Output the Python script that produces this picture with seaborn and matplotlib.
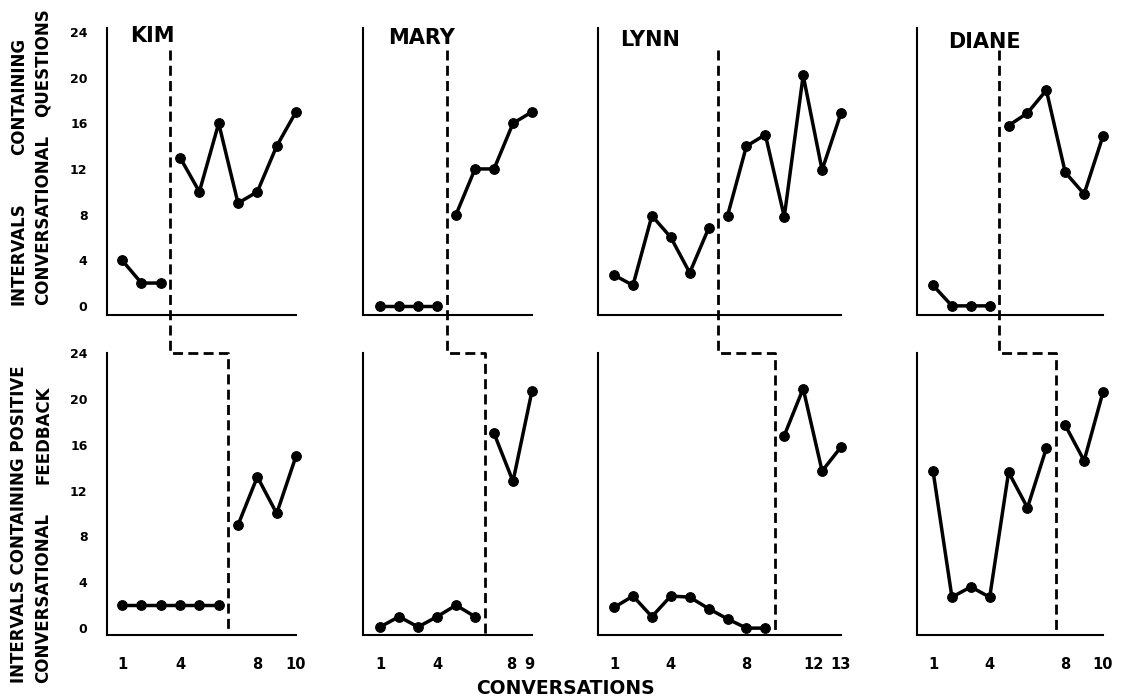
import numpy as np
import pandas as pd
import matplotlib
matplotlib.use("Agg")
import matplotlib.pyplot as plt
from matplotlib.lines import Line2D
from matplotlib.transforms import ScaledTranslation
import seaborn as sns

# ---------------- data ----------------
names = ["KIM", "MARY", "LYNN", "DIANE"]

kim_questions = [4, 2, 2, 13, 10, 16, 9, 10, 14, 17]
mary_questions = [0, 0, 0, 0, 8, 12, 12, 16, 17]
lynn_questions = [2.7, 1.8, 7.9, 6, 2.9, 6.8, 7.9, 14, 15, 7.8, 20.2, 11.9, 16.9]
diane_questions = [1.8, 0, 0, 0, 15.8, 16.9, 18.9, 11.7, 9.8, 14.9]

kim_feedback = [2, 2, 2, 2, 2, 2, 9, 13.2, 10, 15]
mary_feedback = [0.1, 1, 0.1, 1, 2, 1, 17, 12.8, 20.7]
lynn_feedback = [1.8, 2.8, 1, 2.8, 2.7, 1.7, 0.8, 0, 0, 16.8, 20.9, 13.7, 15.8]
diane_feedback = [13.7, 2.7, 3.6, 2.7, 13.6, 10.5, 15.7, 17.7, 14.6, 20.6]

question_phase_change = [3.5, 4.5, 6.5, 4.5]
feedback_phase_change = [6.5, 6.5, 9.5, 7.5]

xtick_labels = [[1, 4, 8, 10], [1, 4, 8, 9], [1, 4, 8, 12, 13], [1, 4, 8, 10]]
ytick_labels = [0, 4, 8, 12, 16, 20, 24]

questions = [kim_questions, mary_questions, lynn_questions, diane_questions]
feedback = [kim_feedback, mary_feedback, lynn_feedback, diane_feedback]

# ---------------- style / layout ----------------
sns.set_style("white")
plt.rcParams["font.family"] = ["DejaVu Sans"]
plt.rcParams["font.weight"] = "bold"
for k in ["text.color", "axes.labelcolor", "xtick.color", "ytick.color"]:
    plt.rcParams[k] = "black"

W, H = 1121, 698
fig = plt.figure(figsize=(W / 100, H / 100), dpi=100)

# (left px, right px, xlim left)
cols_px = [(107, 296, 0.22), (363, 532, 0.10), (598, 841, 0.15), (917, 1103, 0.15)]
# (top px, bottom px, ylim)
rows_px = [(28, 315, (-0.8, 24.35)), (353, 635, (-0.6, 24.0))]
name_offsets = [(23, -8), (25, -10), (22, -12), (31, -14)]
# horizontal nudges (px) of crowded x tick labels, per panel
xlabel_nudge = [{}, {8: -2, 9: -3}, {12: -9}, {}]


def rect(l, r, t, b):
    return [l / W, 1 - b / H, (r - l) / W, (b - t) / H]


def draw_panel(ax, values, change, xlim_left, ylim, show_x, xt, show_y, nudge):
    n = len(values)
    session = np.arange(1, n + 1)
    df = pd.DataFrame({
        "session": session,
        "value": values,
        "phase": (session > change).astype(int),
    })
    sns.lineplot(data=df, x="session", y="value", units="phase", estimator=None,
                 color="black", marker="o", markersize=7,
                 markeredgecolor="black", markerfacecolor="black",
                 linewidth=2.5, ax=ax, legend=False)
    for ln in ax.lines:
        ln.set_clip_on(False)
    ax.set_xlim(xlim_left, n)
    ax.set_ylim(*ylim)
    for s in ["top", "right"]:
        ax.spines[s].set_visible(False)
    for s in ["left", "bottom"]:
        ax.spines[s].set_color("black")
        ax.spines[s].set_linewidth(1.5)
    ax.set_xlabel("")
    ax.set_ylabel("")
    ax.tick_params(length=0)
    if show_x:
        ax.set_xticks(xt)
        ax.set_xticklabels([str(v) for v in xt], fontsize=10.5, fontweight="bold")
        ax.tick_params(axis="x", pad=16)
        for v, lab in zip(xt, ax.get_xticklabels()):
            if v in nudge:
                lab.set_transform(lab.get_transform() +
                                  ScaledTranslation(nudge[v] / 100, 0, fig.dpi_scale_trans))
    else:
        ax.set_xticks([])
    if show_y:
        ax.set_yticks(ytick_labels)
        ax.set_yticklabels([str(v) for v in ytick_labels], fontsize=9, fontweight="bold")
        ax.tick_params(axis="y", pad=14)
    else:
        ax.set_yticks([])
    ax.patch.set_alpha(0)


top_axes, bottom_axes = [], []
for i in range(4):
    l, r, x0 = cols_px[i]
    t, b, yl = rows_px[0]
    ax_t = fig.add_axes(rect(l, r, t, b))
    draw_panel(ax_t, questions[i], question_phase_change[i], x0, yl, False, None, i == 0, {})
    t, b, yl = rows_px[1]
    ax_b = fig.add_axes(rect(l, r, t, b))
    draw_panel(ax_b, feedback[i], feedback_phase_change[i], x0, yl, True,
               xtick_labels[i], i == 0, xlabel_nudge[i])
    top_axes.append(ax_t)
    bottom_axes.append(ax_b)
    dx, dy = name_offsets[i]
    ax_t.annotate(names[i], xy=(0, 1), xycoords="axes fraction",
                  xytext=(dx * 0.72, dy * 0.72), textcoords="offset points",
                  ha="left", va="center", fontsize=15, fontweight="heavy")

# phase change dashed lines spanning both rows
inv = fig.transFigure.inverted()
for i in range(4):
    at, ab = top_axes[i], bottom_axes[i]
    qx, fx = question_phase_change[i], feedback_phase_change[i]
    p1 = at.transData.transform((qx, 22.4))
    y24 = ab.transData.transform((fx, 24))[1]
    p2 = (p1[0], y24)
    p3 = ab.transData.transform((fx, 24))
    p4 = ab.transData.transform((fx, ab.get_ylim()[0]))
    pts = inv.transform(np.array([p1, p2, p3, p4]))
    fig.add_artist(Line2D(pts[:, 0], pts[:, 1], transform=fig.transFigure,
                          color="black", linewidth=2.0,
                          linestyle=(0, (3.6, 1.9))))

# axis titles
fs_lab = 12
def ftext(xpx, ypx, s, va):
    fig.text(xpx / W, 1 - ypx / H, s, rotation=90, ha="center", va=va,
             fontsize=fs_lab, fontweight="bold")

ftext(19, 305, "INTERVALS", "bottom")
ftext(19, 38, "CONTAINING", "top")
ftext(43, 305, "CONVERSATIONAL", "bottom")
ftext(43, 8, "QUESTIONS", "top")

ftext(19, 683, "INTERVALS CONTAINING POSITIVE", "bottom")
ftext(43, 683, "CONVERSATIONAL", "bottom")
ftext(43, 385, "FEEDBACK", "top")

fig.text(565 / W, 1 - 688 / H, "CONVERSATIONS", ha="center", va="center",
         fontsize=13.5, fontweight="bold")

fig.savefig("out.png", dpi=100, facecolor="white")
